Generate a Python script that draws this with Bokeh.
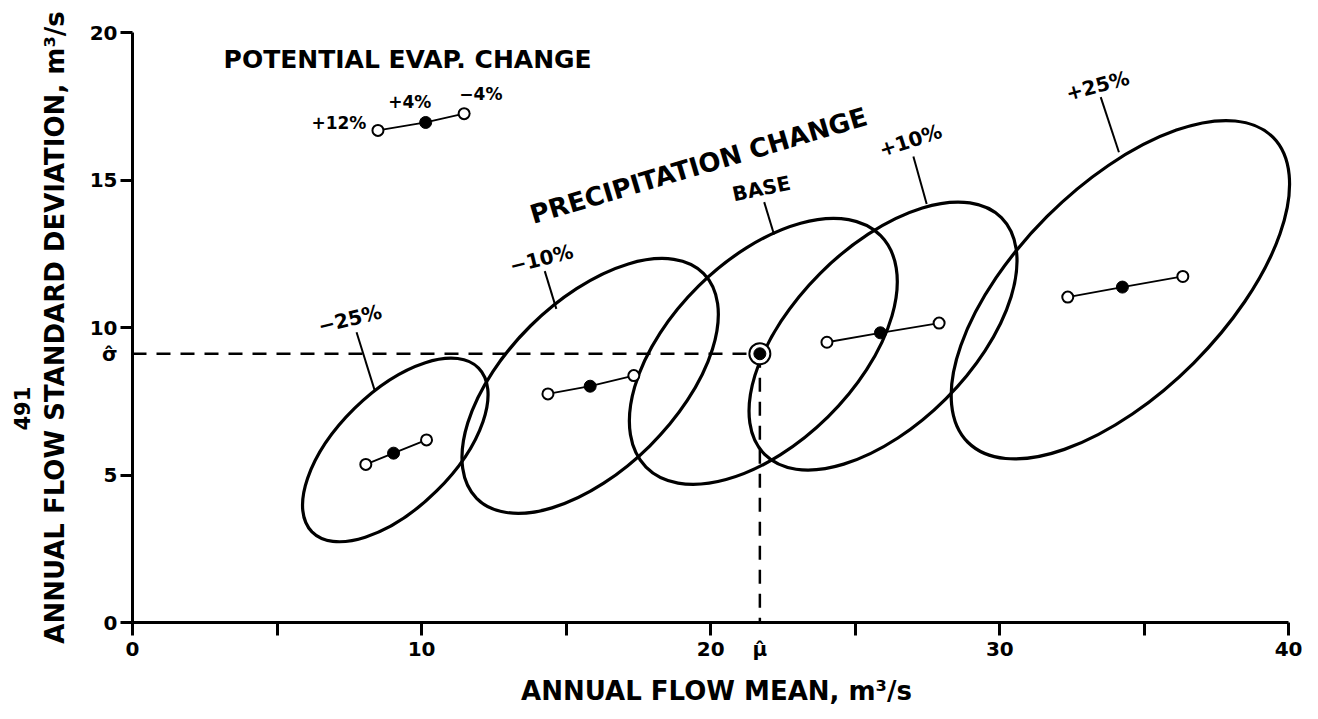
import math
from bokeh.plotting import figure
from bokeh.models import Range1d, FixedTicker, Label, ColumnDataSource, Title
from bokeh.core.properties import value
from bokeh.embed import file_html
from bokeh.resources import INLINE

FONT = "DejaVu Sans"

# ---------------- data ----------------
# precipitation-change scenarios (three PET cases each: +12 %, +4 %, -4 %)
scenarios = ["−25%", "−10%", "+10%", "+25%"]
pet_plus12_mean = [8.07, 14.37, 24.02, 32.35]
pet_plus12_sd = [5.36, 7.75, 9.50, 11.03]
pet_plus4_mean = [9.03, 15.83, 25.87, 34.24]
pet_plus4_sd = [5.74, 8.01, 9.82, 11.37]
pet_minus4_mean = [10.17, 17.34, 27.90, 36.33]
pet_minus4_sd = [6.19, 8.37, 10.15, 11.73]

# base case
base_mean = 21.70
base_sd = 9.11

# sampling ellipses (center, full axes, tilt)
ellipse_names = ["−25%", "−10%", "BASE", "+10%", "+25%"]
ellipse_mean = [9.09, 15.83, 21.82, 25.96, 34.17]
ellipse_sd = [5.85, 8.02, 9.19, 9.71, 11.28]
ellipse_major = [8.08, 11.05, 11.40, 11.58, 14.92]
ellipse_minor = [3.95, 5.74, 6.24, 6.02, 7.03]
ellipse_tilt_deg = [44.5, 44.7, 44.6, 45.0, 45.0]

# potential-evaporation key
pet_labels = ["+12%", "+4%", "−4%"]
pet_key_mean = [8.49, 10.14, 11.47]
pet_key_sd = [16.68, 16.95, 17.25]

x_ticks = [0, 10, 20, 30, 40]
x_minor_ticks = [5, 15, 25, 35]
y_ticks = [0, 5, 10, 15, 20]

# label placement (annotation positions)
ell_label_x = [7.52, 14.14, 21.75, 26.91, 33.38]
ell_label_y = [10.29, 12.33, 14.71, 16.34, 18.20]
ell_label_angle = [14, 14, 12, 18, 15]
leader_x0 = [7.75, 14.26, 21.85, 27.01, 33.49]
leader_y0 = [9.84, 11.91, 14.25, 15.80, 17.81]
leader_x1 = [8.38, 14.66, 22.19, 27.47, 34.12]
leader_y1 = [7.86, 10.63, 13.15, 14.19, 15.94]
pet_label_x = [7.14, 9.59, 12.05]
pet_label_y = [16.93, 17.66, 17.92]

# ---------------- figure ----------------
X_END = 40.4
p = figure(frame_width=round(1156 * X_END / 40), frame_height=590,
           min_border_left=132, min_border_right=2, min_border_top=32, min_border_bottom=80,
           x_range=Range1d(0, X_END), y_range=Range1d(0, 20),
           output_backend="svg", toolbar_location=None,
           background_fill_color="white", border_fill_color="white")
p.outline_line_color = None
p.grid.visible = False

# labelled ticks (incl. the base-case estimates); tick marks drawn as minor ticks
x_label_ticks = sorted(x_ticks + [base_mean])
y_label_ticks = sorted(y_ticks + [base_sd])
p.xaxis.ticker = FixedTicker(ticks=x_label_ticks, minor_ticks=sorted(x_ticks + x_minor_ticks))
p.yaxis.ticker = FixedTicker(ticks=y_label_ticks, minor_ticks=y_ticks)
p.xaxis.major_label_overrides = {base_mean: "μ\u0302"}
p.yaxis.major_label_overrides = {base_sd: "σ\u0302"}
p.xaxis.bounds = (0, 40)
p.yaxis.bounds = (0, 20)

for ax in (p.xaxis[0], p.yaxis[0]):
    ax.axis_line_width = 3
    ax.axis_line_color = "black"
    ax.major_tick_in = 0
    ax.major_tick_out = 0
    ax.major_tick_line_color = None
    ax.minor_tick_in = 0
    ax.minor_tick_line_width = 3
    ax.minor_tick_line_color = "black"
    ax.major_label_text_font = FONT
    ax.major_label_text_font_size = "20px"
    ax.major_label_text_font_style = "bold"
    ax.major_label_text_color = "black"
    ax.axis_label_text_font = FONT
    ax.axis_label_text_font_size = "26px"
    ax.axis_label_text_font_style = "bold"
    ax.axis_label_text_color = "black"

p.xaxis.minor_tick_out = 13
p.xaxis.major_label_standoff = 1
p.xaxis.axis_label = "ANNUAL FLOW MEAN, m³/s"
p.xaxis.axis_label_standoff = 12

p.yaxis.minor_tick_out = 12
p.yaxis.major_label_standoff = 3
p.yaxis.axis_label = "ANNUAL FLOW STANDARD DEVIATION, m³/s"
p.yaxis.axis_label_standoff = 17

# page number of the scanned source
p.add_layout(Title(text="491", align="left", offset=192, standoff=14,
                   text_font=FONT, text_font_size="21px", text_font_style="bold",
                   text_color="black"), "left")

# dashed reference lines to the base point
p.line([0, base_mean], [base_sd, base_sd], line_color="black", line_width=2.5, line_dash="14 10")
p.line([base_mean, base_mean], [base_sd, 0], line_color="black", line_width=2.5, line_dash="14 10")

# ellipses
esrc = ColumnDataSource(dict(x=ellipse_mean, y=ellipse_sd, w=ellipse_major, h=ellipse_minor,
                             a=[math.radians(t) for t in ellipse_tilt_deg]))
p.ellipse(x="x", y="y", width="w", height="h", angle="a", source=esrc,
          fill_color=None, line_color="black", line_width=3.2)

# leader lines and ellipse labels
p.segment(x0=leader_x0, y0=leader_y0, x1=leader_x1, y1=leader_y1, line_color="black", line_width=2)
p.text(x=ell_label_x, y=ell_label_y, text=ellipse_names,
       angle=[math.radians(a) for a in ell_label_angle],
       text_font=value(FONT), text_font_size="20px", text_font_style="bold",
       text_align="center", text_baseline="middle", text_color="black")

# scenario PET lines and markers
xs = [[a, b, c] for a, b, c in zip(pet_plus12_mean, pet_plus4_mean, pet_minus4_mean)]
ys = [[a, b, c] for a, b, c in zip(pet_plus12_sd, pet_plus4_sd, pet_minus4_sd)]
xs.append(pet_key_mean)
ys.append(pet_key_sd)
p.multi_line(xs=xs, ys=ys, line_color="black", line_width=1.8)
open_x = pet_plus12_mean + pet_minus4_mean + [pet_key_mean[0], pet_key_mean[2]]
open_y = pet_plus12_sd + pet_minus4_sd + [pet_key_sd[0], pet_key_sd[2]]
p.scatter(open_x, open_y, size=11, marker="circle", fill_color="white",
          line_color="black", line_width=2)
p.scatter(pet_plus4_mean + [pet_key_mean[1]], pet_plus4_sd + [pet_key_sd[1]], size=12,
          marker="circle", fill_color="black", line_color="black")

# base point (bullseye)
p.scatter([base_mean], [base_sd], size=21, marker="circle", fill_color="white",
          line_color="black", line_width=2)
p.scatter([base_mean], [base_sd], size=12, marker="circle", fill_color="black",
          line_color="black")

# PET key labels
p.text(x=pet_label_x, y=pet_label_y, text=pet_labels, text_font=value(FONT),
       text_font_size="17px", text_font_style="bold",
       text_align="center", text_baseline="middle", text_color="black")

# titles / annotations
p.add_layout(Label(x=3.15, y=19.07, text="POTENTIAL EVAP. CHANGE", text_font=FONT,
                   text_font_size="25px", text_font_style="bold",
                   text_baseline="alphabetic", text_align="left", text_color="black"))
p.add_layout(Label(x=13.77, y=13.80, text="PRECIPITATION CHANGE", text_font=FONT,
                   text_font_size="26px", text_font_style="bold",
                   text_baseline="alphabetic", text_align="left",
                   angle=16.5, angle_units="deg", text_color="black"))

open("out.html", "w").write(file_html(p, INLINE))
